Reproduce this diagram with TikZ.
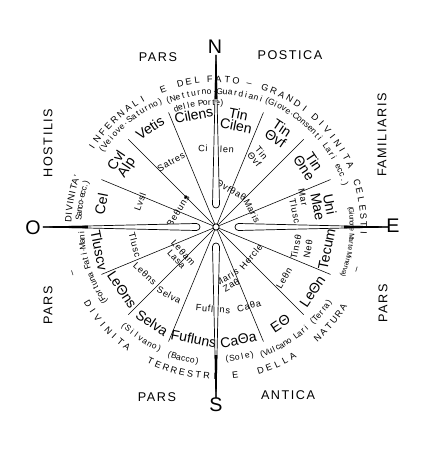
\documentclass[tikz,border=0pt]{standalone}
\usepackage{fontspec}
\setmainfont{Liberation Sans}
\usetikzlibrary{calc}

% letters set one by one round the circle
\newcommand{\arcup}[5]{%
  \foreach \ch [count=\i from 0] in {#5}
    \node[#1, rotate={#3+\i*(#4)-90}] at ({#3+\i*(#4)}:#2) {\ch};}
\newcommand{\arcdown}[5]{%
  \foreach \ch [count=\i from 0] in {#5}
    \node[#1, rotate={#3+\i*(#4)+90}] at ({#3+\i*(#4)}:#2) {\ch};}

\begin{document}
\begin{tikzpicture}[x=0.025cm, y=0.025cm,
  compass/.style={font=\fontsize{14}{14}\selectfont, inner sep=0pt},
  pars/.style={font=\fontsize{9}{9}\selectfont\addfontfeatures{LetterSpace=12}, inner sep=0pt},
  sector/.style={font=\fontsize{10}{8.5}\selectfont, align=center, inner sep=0pt},
  inner/.style={font=\fontsize{6.5}{6.5}\selectfont\addfontfeatures{LetterSpace=8}, align=center, inner sep=0pt},
  ring/.style={font=\fontsize{6.5}{6.5}\selectfont, inner sep=0pt, text height=4.7pt, text depth=0pt},
  paren/.style={font=\fontsize{6}{6}\selectfont, inner sep=0pt, text height=4.4pt, text depth=1.3pt},
  smallparen/.style={paren, font=\fontsize{5}{5}\selectfont},
  spoke/.style={line width=0.4pt},
  needle/.style={line width=0.5pt, fill=white}]
	\useasboundingbox (-216,-225) rectangle (209,227);

	% centre and spokes
	\node[circle, draw, fill=white, inner sep=0pt, minimum size=4.5pt, line width=0.6pt] (c) at (0,0) {};
	\foreach \a in {22.5,45,67.5,112.5,135,157.5,202.5,225,247.5,292.5,315,337.5}
		\draw[spoke] (c) -- (\a:124);

	% the sixteen regions
	\foreach \a/\r/\t [count=\i] in {168.75/117/Cel, 146.25/113/Cvl\\Alp, 123.75/119/Vetis, 101.25/114/Cilens, 78.75/109/Tin\\Cilen, 56.25/113/Tin\\Θvf, 33.75/112/Tin\\Θne, 11.25/110/Uni\\Mae}
		\node[sector, rotate=\a-90] (up\i) at (\a:\r) {\t};
	\foreach \a/\r/\t [count=\i] in {-11.25/113/Tecum, -33.75/116/LeΘn, -56.25/116/EΘ, -78.75/115/CaΘa, -101.25/114/Fufluns, -123.75/115/Selva, -146.25/113/LeΘns, -168.75/119/Tluscv}
		\node[sector, rotate=\a+90] (lo\i) at (\a:\r) {\t};

	% inner names
	\node[inner, rotate=70] (lvsl) at (-76,25) {Lvsl};
	\node[inner, rotate=30] (satres) at (-45,65) {Satres};
	\node[inner, rotate=58] (betuns) at (-38,16) {Beθuns};
	\fill (-30,30) circle (1.6);
	\node[inner, rotate=-3] (cilenin) at (0,78) {Ci\hspace{9pt}len};
	\node[inner, rotate=-50] (tinvf) at (42,71) {Tin\\Θvf};
	\node[inner, rotate=-30] (vfath) at (15,37) {Θvfθaθ};
	\node[inner, rotate=-63] (maris) at (36,16) {Maris};
	\node[inner, rotate=-78] (mar) at (87,30) {Mar};
	\node[inner, rotate=-78] (tluscr) at (79,16) {Tlusc};
	\node[inner, rotate=78] (tinse) at (80,-20) {Tinsθ};
	\node[inner, rotate=80] (neth) at (92,-22) {Neθ};
	\node[inner, rotate=60] (lethnin) at (68,-51) {Leθn};
	\node[inner, rotate=50] (hercle) at (35,-30) {Hercle};
	\node[inner, rotate=30] (zath) at (13,-54) {Maris\\Zaθ};
	\node[inner, rotate=15] (cathain) at (33,-79) {Caθa};
	\node[inner, rotate=-5] (fuflunsin) at (-3,-82) {Fufluns};
	\node[inner, rotate=-28] (selvain) at (-47,-68) {Selva};
	\node[inner, rotate=-43] (lethnsin) at (-71,-47) {Leθns};
	\node[inner, rotate=-75] (tluscl) at (-81,-18) {Tlusc};
	\node[inner, rotate=-48] (letham) at (-36,-29) {Leθam\\Lasa};

	% outer ring, top
	\arcup{ring}{148}{177}{-2.1}{D,I,V,I,N,I,T,A,'}
	\arcup{ring}{148}{147}{-3.4}{I,N,F,E,R,N,A,L,I}
	\arcup{ring}{148}{111}{0}{E}
	\arcup{ring}{148}{104}{-3.3}{D,E,L}
	\arcup{ring}{148}{92.4}{-3.4}{F,A,T,O}
	\arcup{ring}{148}{77}{0}{–}
	\arcup{ring}{148}{70.6}{-3.5}{G,R,A,N,D,I}
	\arcup{ring}{148}{47.8}{-3.3}{D,I,V,I,N,I,T,A}
	\arcup{ring}{148}{17.3}{-3.27}{C,E,L,E,S,T,I}
	\arcup{ring}{148}{-17}{0}{–}
	% outer ring, bottom
	\arcdown{ring}{150}{198}{0}{–}
	\arcdown{ring}{149}{211}{3.2}{D,I,V,I,N,I,T,A}
	\arcdown{ring}{149}{244}{3.2}{T,E,R,R,E,S,T,R,I}
	\arcdown{ring}{149}{277.4}{0}{E}
	\arcdown{ring}{150}{287.3}{3.35}{D,E,L,L,A}
	\arcdown{ring}{150}{312.6}{3.04}{N,A,T,U,R,A}

	% gods in brackets
	\arcup{paren}{134}{214}{-1.85}{{(},F,o,r,t,u,n,a,~,F,a,t,i,·,M,a,n,i}
	\arcup{paren}{137}{176}{-1.5}{S,a,n,c,o,·,e,c,c,.,{)}}
	\arcup{paren}{137}{146}{-2.13}{{(},V,e,i,o,v,e,·,S,a,t,u,r,n,o,{)}}
	\arcup{paren}{135}{110.8}{-2.24}{{(},N,e,t,t,u,r,n,o,·,G,u,a,r,d,i,a,n,i}
	\arcup{paren}{124}{108.6}{-1.94}{d,e,l,l,e,~,P,o,r,t,e,{)}}
	\arcup{paren}{136}{68}{-1.98}{{(},G,i,o,v,e,·,C,o,n,s,e,n,t,i,~,L,a,r,i,~,e,c,c,.,{)}}
	\arcup{smallparen}{136}{8}{-1.32}{{(},G,i,u,n,o,n,e,~,M,a,r,t,e,~,M,i,n,e,r,v,a,{)}}
	\arcdown{paren}{135}{226.8}{2.28}{{(},S,i,l,v,a,n,o,{)}}
	\arcdown{paren}{136}{250}{2}{{(},B,a,c,c,o,{)}}
	\arcdown{paren}{133}{274.8}{2.2}{{(},S,o,l,e,{)}}
	\arcdown{paren}{136}{289.8}{1.83}{{(},V,u,l,c,a,n,o,~,L,a,r,i,~,{(},T,e,r,r,a,{)}}

	% needles
	\foreach \a/\len/\b in {90/172/22.5, 180/173/19.5, 0/172/22.5, 270/171/19.5} {
		\filldraw[needle] (\a:\len) -- ($(\a:\b)+(\a+90:3.5)$)
			arc[start angle=\a+90, end angle=\a+270, radius=3.5] -- cycle;
		\fill ($(\a:\len)+(\a+90:0.6)$) -- ($(\a:128)+(\a+90:1.3)$)
			-- ($(\a:128)+(\a-90:1.3)$) -- ($(\a:\len)+(\a-90:0.6)$) -- cycle;
	}

	% compass letters
	\node[compass] (N) at (-1,180) {N};
	\node[compass] (S) at (0,-178) {S};
	\node[compass] (O) at (-183,-1) {O};
	\node[compass] (E) at (177,1) {E};

	% the parts of the sky
	\node[pars] (parsnw) at (-58,170) {PARS};
	\node[pars] (postica) at (74,172) {POSTICA};
	\node[pars, rotate=90] (hostilis) at (-168,84) {HOSTILIS};
	\node[pars, rotate=90] (familiaris) at (166,92) {FAMILIARIS};
	\node[pars, rotate=90] (parssw) at (-168,-78) {PARS};
	\node[pars, rotate=90] (parsse) at (167,-76) {PARS};
	\node[pars] (parss) at (-59,-170) {PARS};
	\node[pars] (antica) at (72,-168) {ANTICA};
\end{tikzpicture}
\end{document}
